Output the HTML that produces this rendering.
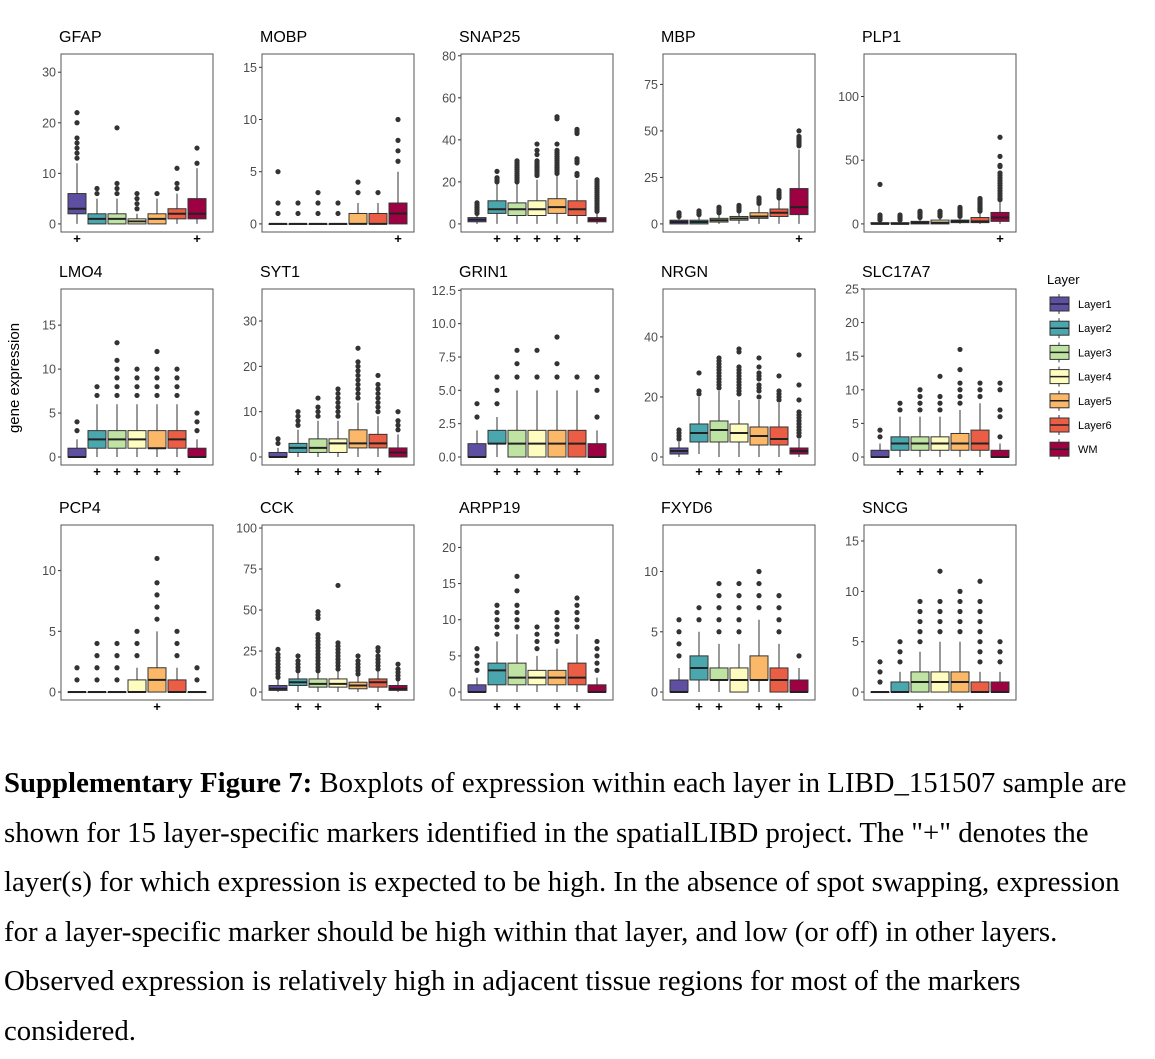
<!DOCTYPE html>
<html><head><meta charset="utf-8"><style>
html,body{margin:0;padding:0;background:#fff;width:1155px;height:1059px;overflow:hidden;position:relative}
#cap{position:absolute;left:4px;top:761px;font-family:"Liberation Serif",serif;font-size:28.8px;color:#000;white-space:nowrap}
#cap div{height:49.6px;line-height:44px}
</style></head><body>
<svg id="fig" width="1155" height="740" style="position:absolute;left:0;top:0" xmlns="http://www.w3.org/2000/svg" font-family="Liberation Sans, sans-serif"></svg>
<div id="cap">
<div><b>Supplementary Figure 7:</b> Boxplots of expression within each layer in LIBD_151507 sample are</div>
<div>shown for 15 layer-specific markers identified in the spatialLIBD project. The "+" denotes the</div>
<div>layer(s) for which expression is expected to be high. In the absence of spot swapping, expression</div>
<div>for a layer-specific marker should be high within that layer, and low (or off) in other layers.</div>
<div>Observed expression is relatively high in adjacent tissue regions for most of the markers</div>
<div>considered.</div>
</div>
<script>
const layers=["Layer1","Layer2","Layer3","Layer4","Layer5","Layer6","WM"];
const colors=["#5E4FA2","#4AA7AD","#BFE3A3","#FFFCC0","#FBB868","#EB5E45","#9E0142"];
const genes=["GFAP","MOBP","SNAP25","MBP","PLP1","LMO4","SYT1","GRIN1","NRGN","SLC17A7","PCP4","CCK","ARPP19","FXYD6","SNCG"];
const yMax=[32,15.5,77,87,127,18.2,35.3,12,53.3,23.8,13.1,97,22,13.2,15.8];
const yTicks=[[0,10,20,30],[0,5,10,15],[0,20,40,60,80],[0,25,50,75],[0,50,100],[0,5,10,15],[0,10,20,30],[0,2.5,5,7.5,10,12.5],[0,20,40],[0,5,10,15,20,25],[0,5,10],[0,25,50,75,100],[0,5,10,15,20],[0,5,10],[0,5,10,15]];
const tickLabels=[["0","10","20","30"],["0","5","10","15"],["0","20","40","60","80"],["0","25","50","75"],["0","50","100"],["0","5","10","15"],["0","10","20","30"],["0.0","2.5","5.0","7.5","10.0","12.5"],["0","20","40"],["0","5","10","15","20","25"],["0","5","10"],["0","25","50","75","100"],["0","5","10","15","20"],["0","5","10"],["0","5","10","15"]];
const stats=[
[[0,2,3,6,12],[0,0,1,2,5],[0,0,1,2,5],[0,0,0.5,1,2],[0,0,1,2,5],[0,1,2,3,6],[0,1,2,5,11]],
[[0,0,0,0,0],[0,0,0,0,0],[0,0,0,0,0],[0,0,0,0,0],[0,0,0,1,2],[0,0,0,1,2],[0,0,1,2,5]],
[[0,1,2,3,4],[0,5,7,11,19],[0,4,7,10,19],[0,4,7,11,21],[0,5,8,12,23],[0,4,7,11,21],[0,1,2,3,5]],
[[0,0,1,2,3],[0,0,1,2,4],[0,1,2,3,5],[0,2,3,4,6],[0,3,4,6,10],[0,4,6,8,13],[0,5,9,19,40]],
[[0,0,0,1,2],[0,0,0,1,2],[0,0,1,2,4],[0,0,1,3,5],[0,1,2,3,5],[0,1,2,5,9],[0,2,5,9,18]],
[[0,0,0,1,2],[0,1,2,3,6],[0,1,2,3,6],[0,1,2,3,6],[0,1,1,3,6],[0,1,2,3,6],[0,0,0,1,2]],
[[0,0,0,1,2],[0,1,2,3,6],[0,1,2,4,8],[0,1,3,4,8],[0,2,3,6,12],[0,2,3,5,9],[0,0,1,2,5]],
[[0,0,0,1,2],[0,1,1,2,3],[0,0,1,2,5],[0,0,1,2,5],[0,0,1,2,5],[0,0,1,2,5],[0,0,0,1,2]],
[[0,1,2,3,5],[1,5,8,11,20],[0,5,9,12,22],[0,5,8,11,19],[0,4,7,10,19],[0,4,6,10,18],[0,1,2,3,6]],
[[0,0,0,1,2],[0,1,2,3,6],[0,1,2,3,6],[0,1,2,3,6],[0,1,2,3.5,7],[0,1,2,4,8],[0,0,0,1,2]],
[[0,0,0,0,0],[0,0,0,0,0],[0,0,0,0,0],[0,0,0,1,2],[0,0,1,2,5],[0,0,0,1,2],[0,0,0,0,0]],
[[0,1,2,4,8],[0,4,6,8,12],[0,3,5,8,12],[0,3,5,8,13],[0,2,4,6,10],[0,3,6,8,13],[0,1,2,4,7]],
[[0,0,0,1,2],[0,1,3,4,7],[0,1,2,4,8],[0,1,2,3,5],[0,1,2,3,6],[0,1,2,4,8],[0,0,0,1,2]],
[[0,0,0,1,2],[0,1,2,3,5],[0,1,1,2,4],[0,0,1,2,4],[0,1,1,3,6],[0,0,1,2,4],[0,0,0,1,2]],
[[0,0,0,0,0],[0,0,0,1,2],[0,0,1,2,4],[0,0,1,2,5],[0,0,1,2,5],[0,0,0,1,2],[0,0,0,1,2]]
];
const outliers=[
[[13,14,15,16,17,20,22],[6,7],[6,7,8,19],[3,4,5,6],[6],[7,8,11],[12,15]],
[[1,2,5],[1,2],[1,2,3],[1,2],[3,4],[3],[6,7,8,10]],
[[5,6,7,8,9,10],[20,21,22,25],[20,21,22,23,24,25,26,27,28,29,30],[23,24,25,26,27,28,29,30,33,35,38],[24,25,26,27,28,29,30,31,32,33,34,35,38,50,51],[23,24,29,30,31,43,44,45],[6,7,8,9,10,11,12,13,14,15,16,17,18,19,20,21]],
[[4,5,6],[5,6,7],[6,7,8,9],[7,8,9,10],[11,12,13,14],[14,15,16,17,18],[42,43,44,45,46,47,50]],
[[3,4,5,6,7,31],[3,4,5,6,7],[5,6,7,8,9,10],[6,7,8,9,10],[6,7,8,9,10,11,12,13],[10,11,12,13,14,15,16,17,18,19,20],[19,20,22,24,26,28,30,32,34,36,38,40,45,46,53,68]],
[[3,4],[7,8],[7,8,9,10,11,13],[7,8,9,10],[7,8,9,10,12],[7,8,9,10],[3,4,5]],
[[3,4],[7,8,9,10],[9,10,11,13],[9,10,11,12,13,14,15],[13,14,15,16,17,18,19,20,21,24],[10,11,12,13,14,15,16,18],[6,7,8,10]],
[[3,4],[4,5,6],[6,7,8],[6,8],[6,7,9],[6],[3,5,6]],
[[6,7,8,9],[21,22,28],[23,24,25,26,27,28,29,30,31,32,33],[21,22,23,24,25,26,27,28,29,30,35,36],[20,22,23,24,26,27,28,30,33],[19,20,21,22,27],[7,8,9,10,11,12,13,14,15,19,24,34]],
[[3,4],[7,8],[7,8,9,10],[7,8,9,12],[8,9,10,11,13,16],[9,10,11],[3,6,7,10,11]],
[[1,2],[1,2,3,4],[1,2,3,4],[3,4,5],[6,7,8,9,11],[3,4,5],[1,2]],
[[9,11,13,15,17,19,21,23,26],[13,15,17,19,22],[13,15,17,19,21,23,25,27,29,31,33,35,45,47,49],[14,16,18,20,22,24,26,28,30,65],[11,13,15,17,19,22],[14,16,18,20,22,25,27],[8,10,12,14,17]],
[[3,4,5,6],[8,9,10,11,12],[9,10,11,12,14,16],[6,7,8,9],[7,8,9,10,11],[9,10,11,12,13],[3,4,5,6,7]],
[[3,4,5,6],[6,7],[5,6,7,8,9],[5,6,7,8,9],[7,8,9,10],[5,6,7,8],[3]],
[[1,2,3],[3,4,5],[5,6,7,8,9],[6,7,8,9,12],[6,7,8,9,10],[3,4,5,6,7,8,9,11],[3,4,5]]
];
const plusIdx=[[0,6],[6],[1,2,3,4,5],[6],[6],[1,2,3,4,5],[1,2,3,4,5],[1,2,3,4,5],[1,2,3,4,5],[1,2,3,4,5],[4],[1,2,5],[1,2,4,5],[1,2,4,5],[2,4]];

const svg=document.getElementById('fig');
const NS="http://www.w3.org/2000/svg";
function mk(tag,attrs,parent){const e=document.createElementNS(NS,tag);for(const k in attrs)e.setAttribute(k,attrs[k]);(parent||svg).appendChild(e);return e;}
const colL=[61,262,461,663,864], W=152;
const rowT=[54,289,525], rowB=[232,465,700];
genes.forEach((g,gi)=>{
  const col=gi%5,row=Math.floor(gi/5);
  const L=colL[col],T=rowT[row],B=rowB[row],H=B-T;
  const M=yMax[gi],lo=-0.05*M,hi=1.05*M;
  const y=v=>B-(v-lo)/(hi-lo)*H;
  const unit=W/7.6;
  const x=i=>L+unit*(0.8+i);
  const grp=mk('g',{});
  
  
  const t=mk('text',{x:L-2,y:T-12,'font-size':16,fill:'#000'},grp);t.textContent=g;
  
  
  yTicks[gi].forEach((v,k)=>{
    const yy=y(v);
    mk('line',{x1:L-3,x2:L,y1:yy,y2:yy,stroke:'#333','stroke-width':1},grp);
    const tl=mk('text',{x:L-5,y:yy+4.5,'font-size':12.5,fill:'#4d4d4d','text-anchor':'end'},grp);
    tl.textContent=tickLabels[gi][k];
    
    
  });
  stats[gi].forEach((s,i)=>{
    const cx=x(i),bw=unit*0.9;
    mk('line',{x1:cx,x2:cx,y1:y(s[0]),y2:y(s[1]),stroke:'#333','stroke-width':1},grp);
    mk('line',{x1:cx,x2:cx,y1:y(s[3]),y2:y(s[4]),stroke:'#333','stroke-width':1},grp);
    const r=mk('rect',{x:cx-bw/2,y:y(s[3]),width:bw,height:Math.max(0.5,y(s[1])-y(s[3])),fill:colors[i],stroke:'#333','stroke-width':1},grp);
    
    
    mk('line',{x1:cx-bw/2,x2:cx+bw/2,y1:y(s[2]),y2:y(s[2]),stroke:'#222','stroke-width':2},grp);
    outliers[gi][i].forEach(v=>{
      const c=mk('circle',{cx:cx,cy:y(v),r:2.6,fill:'#333'},grp);
      
      
    });
  });
  const fr=mk('rect',{x:L,y:T,width:W,height:H,fill:'none',stroke:'#555','stroke-width':1},grp);
  
  
  plusIdx[gi].forEach(i=>{
    const p=mk('text',{x:x(i),y:B+11,'font-size':13,'font-weight':'bold',fill:'#000','text-anchor':'middle'},grp);
    p.textContent='+';
    
    
  });
});
const yt=mk('text',{x:0,y:0,'font-size':15,fill:'#000','text-anchor':'middle',transform:'translate(19,378) rotate(-90)'});
yt.textContent='gene expression';


const lg=mk('g',{});


const lt=mk('text',{x:1047,y:284,'font-size':13,fill:'#000'},lg);lt.textContent='Layer';


layers.forEach((n,i)=>{
  const cy=304+i*24.2;
  const e=mk('g',{},lg);
  
  
  mk('line',{x1:1059,x2:1059,y1:cy-10,y2:cy+10,stroke:'#333'},e);
  mk('rect',{x:1050,y:cy-7,width:19,height:14,fill:colors[i],stroke:'#333'},e);
  mk('line',{x1:1050,x2:1069,y1:cy,y2:cy,stroke:'#222','stroke-width':1.5},e);
  const tx=mk('text',{x:1078,y:cy+4,'font-size':11,fill:'#000'},e);tx.textContent=n;
});
</script>
</body></html>
